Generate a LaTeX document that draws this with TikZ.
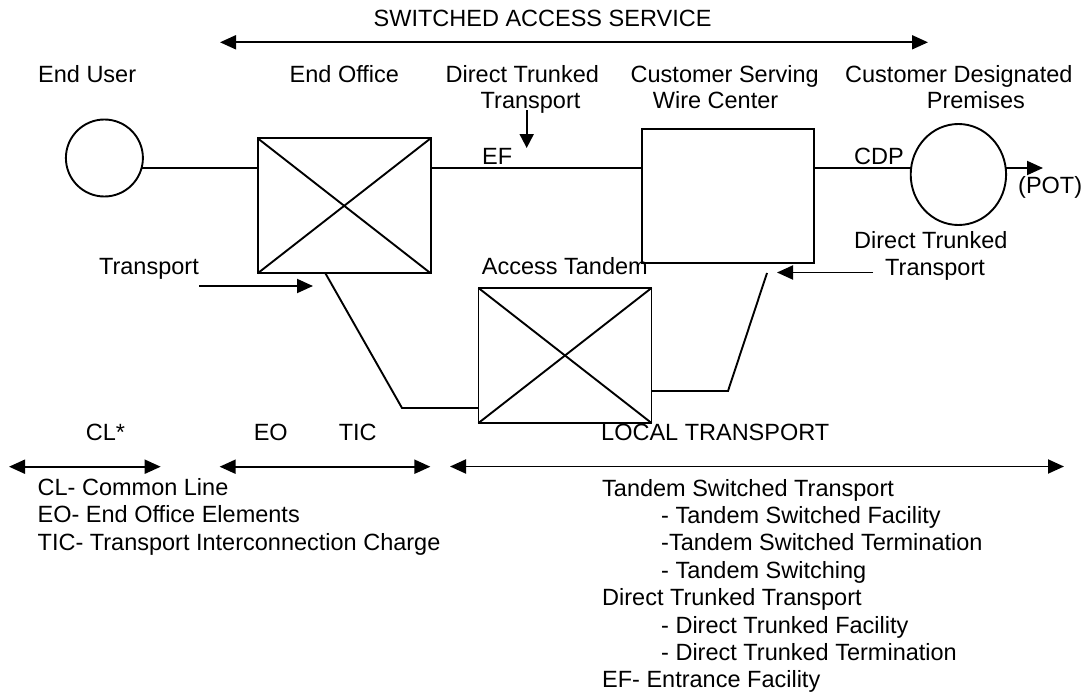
\documentclass[tikz,border=0pt]{standalone}
\usepackage{fontspec}
\setmainfont{Liberation Sans}
\usetikzlibrary{arrows.meta,shapes.geometric}
\begin{document}
\begin{tikzpicture}[x=1pt,y=-1pt,
  lbl/.style={inner sep=0pt,anchor=base west,font=\fontsize{23.5}{28}\selectfont},
  lble/.style={lbl,anchor=base east},
  ln/.style={line width=1.9pt},
  arr/.style={ln,-{Triangle[length=16pt,width=14pt]}},
  darr/.style={ln,{Triangle[length=16pt,width=14pt]}-{Triangle[length=16pt,width=14pt]}},
  xbox/.style={draw,line width=1.9pt,inner sep=0pt,outer sep=0pt,minimum width=173pt,minimum height=135pt},
  rnd/.style={draw,line width=1.9pt,inner sep=0pt,outer sep=0pt}]
\useasboundingbox (0,0) rectangle (1087,693);

% top service arrow
\node[lbl] (sas) at (373.5,27) {SWITCHED ACCESS SERVICE};
\coordinate (sasL) at (220,42.3);
\coordinate (sasR) at (928,42.3);
\draw[darr] (sasL) -- (sasR);

% column headings
\node[lbl] (hEU) at (38,82) {End User};
\node[lbl] (hEO) at (289.5,82) {End Office};
\node[lbl] (hDT1) at (445.5,82) {Direct Trunked};
\node[lbl] (hDT2) at (480.5,108) {Transport};
\node[lbl] (hCS1) at (630.5,82) {Customer Serving};
\node[lbl] (hCS2) at (652.7,108) {Wire Center};
\node[lbl] (hCD1) at (845,82) {Customer Designated};
\node[lbl] (hCD2) at (926.7,108) {Premises};

% elements
\node[rnd,circle,minimum size=77pt] (eu) at (104.4,158) {};
\node[xbox] (eo) at (344.2,205.8) {};
\draw[ln] (eo.north west) -- (eo.south east);
\draw[ln] (eo.south west) -- (eo.north east);
\node[xbox,minimum width=172pt,minimum height=134pt] (cs) at (728,196) {};
\node[xbox] (at) at (565,355.5) {};
\draw[ln] (at.north west) -- (at.south east);
\draw[ln] (at.south west) -- (at.north east);
\node[rnd,ellipse,minimum width=95.4pt,minimum height=101pt] (cdp) at (958.4,174.5) {};

% main line at y = 168
\coordinate (yl) at (0,168);
\draw[ln] (eu.-15) -- (eu.-15 -| eo.west);
\draw[ln] (yl -| eo.east) -- (yl -| cs.west);
\draw[ln] (yl -| cs.east) -- (yl -| cdp.west);
\coordinate (pot) at (1043,168);
\draw[arr] (yl -| cdp.east) -- (pot);

\node[lbl] (ef) at (482,164) {EF};
\node[lbl] (cdpl) at (854,164) {CDP};
\node[lbl] (potl) at (1018,193) {(POT)};

% direct trunked transport down arrow
\coordinate (dtA) at (526.7,110);
\coordinate (dtB) at (526.7,148);
\draw[arr,-{Triangle[length=14pt,width=14pt]}] (dtA) -- (dtB);

% tandem path
\coordinate (p1) at ([xshift=67.7pt]eo.south west);
\coordinate (p2) at (402,408);
\draw[ln] (p1) -- (p2) -- (p2 -| at.west);
\coordinate (q1) at (728,391);
\coordinate (q2) at (767,273);
\draw[ln] (q1 -| at.east) -- (q1) -- (q2);

% labels & arrows near tandem
\node[lble] (tl) at (199,274) {Transport};
\coordinate (tA) at (199,286);
\coordinate (tB) at (313,286);
\draw[arr] (tA) -- (tB);
\node[lbl] (atl) at (481.7,274) {Access Tandem};
\node[lbl] (rdt1) at (854,248) {Direct Trunked};
\node[lbl] (rdt2) at (885,275) {Transport};
\coordinate (rA) at (873,272.5);
\coordinate (rB) at (777,272.5);
\draw[arr] (rA) -- (rB);

% bottom ranges
\node[lbl] (cl) at (85.7,440) {CL*};
\node[lbl] (eol) at (253.6,440) {EO};
\node[lbl] (tic) at (338.6,440) {TIC};
\node[lbl] (lt) at (601,440) {LOCAL TRANSPORT};
\coordinate (b1L) at (9,466.7);
\coordinate (b1R) at (160.7,466.7);
\coordinate (b2L) at (219.6,466.7);
\coordinate (b2R) at (430.4,466.7);
\coordinate (b3L) at (450,466.5);
\coordinate (b3R) at (1064,466.5);
\draw[darr] (b1L) -- (b1R);
\draw[darr] (b2L) -- (b2R);
\draw[darr] (b3L) -- (b3R);

% legends
\node[lbl] (lg1) at (37.5,495) {CL- Common Line};
\node[lbl] (lg2) at (37.5,522.7) {EO- End Office Elements};
\node[lbl] (lg3) at (37.5,550.4) {TIC- Transport Interconnection Charge};

\node[lbl] (r1) at (602,496) {Tandem Switched Transport};
\node[lbl] (r2) at (661,523.4) {- Tandem Switched Facility};
\node[lbl] (r3) at (661,550.8) {-Tandem Switched Termination};
\node[lbl] (r4) at (661,578.2) {- Tandem Switching};
\node[lbl] (r5) at (602,605.6) {Direct Trunked Transport};
\node[lbl] (r6) at (661,633) {- Direct Trunked Facility};
\node[lbl] (r7) at (661,660.4) {- Direct Trunked Termination};
\node[lbl] (r8) at (602,687.8) {EF- Entrance Facility};
\end{tikzpicture}
\end{document}
